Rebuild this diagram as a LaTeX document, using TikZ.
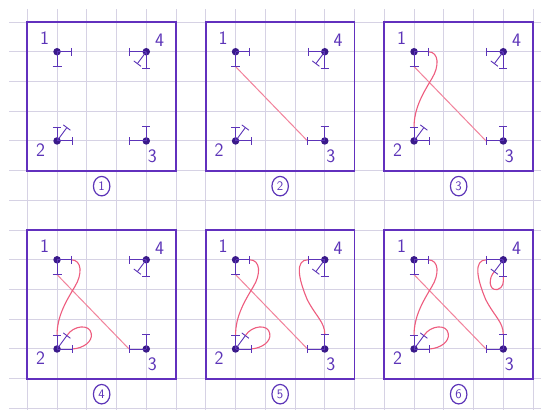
\documentclass[tikz,border=0pt]{standalone}
\usetikzlibrary{shapes.geometric}
\definecolor{boxpurple}{RGB}{98,48,190}
\definecolor{dotpurple}{RGB}{58,26,138}
\definecolor{inkpurple}{RGB}{92,52,184}
\definecolor{pinkline}{RGB}{238,92,126}
\definecolor{pinklight}{RGB}{242,130,155}
\definecolor{gridgray}{RGB}{214,210,228}
\tikzset{
  gridline/.style={gridgray, line width=0.9pt},
  panelbox/.style={draw=boxpurple, line width=1.8pt},
  vdot/.style={circle, fill=dotpurple, inner sep=0pt, minimum size=7.5pt},
  arm/.style={inkpurple, line width=0.9pt},
  curve/.style={pinkline, line width=1.1pt},
  straightcurve/.style={pinklight, line width=1.0pt},
  numlabel/.style={text=inkpurple, font=\sffamily\fontsize{19}{19}\selectfont, inner sep=0pt},
  circlabel/.style={draw=inkpurple, ellipse, line width=1.2pt, text=inkpurple,
    font=\sffamily\fontsize{13}{13}\selectfont, inner sep=0pt, minimum width=16.5pt, minimum height=19.5pt},
}
% #1 prefix, #2 x, #3 y, #4 stage
\newcommand{\drawpanel}[4]{%
\begin{scope}[shift={(#2,#3)}, x=29.74pt, y=-29.74pt]
  \draw[panelbox] (-1,-1) rectangle (4,4);
  % arm ends
  \coordinate (#1ar) at (0.47,0);
  \coordinate (#1ad) at (0,0.5);
  \coordinate (#1dl) at (2.44,0);
  \coordinate (#1dd) at (3,0.56);
  \coordinate (#1dg) at (2.7,0.4);
  \coordinate (#1bu) at (0,2.53);
  \coordinate (#1br) at (0.52,3);
  \coordinate (#1bg) at (0.33,2.55);
  \coordinate (#1cu) at (3,2.5);
  \coordinate (#1cl) at (2.42,3);
  % curves
  \ifnum#4>1 \draw[straightcurve] (#1ad) -- (#1cl); \fi
  \ifnum#4>2 \draw[curve] (#1ar) .. controls (0.85,0) and (0.85,0.5) .. (0.6,0.9)
      .. controls (0.3,1.4) and (0,1.9) .. (#1bu); \fi
  \ifnum#4>3 \draw[curve] (#1br) .. controls (0.9,2.97) and (1.2,2.75) .. (1.15,2.48)
      .. controls (1.1,2.15) and (0.55,2.2) .. (#1bg); \fi
  \ifnum#4>4 \draw[curve] (#1dl) .. controls (2.0,0.0) and (2.1,0.6) .. (2.41,1.34)
      .. controls (2.7,1.9) and (3.0,2.1) .. (#1cu); \fi
  \ifnum#4>5 \draw[curve] (#1dg) .. controls (2.5,0.6) and (2.5,1.05) .. (2.8,1.0)
      .. controls (3.0,0.95) and (3.02,0.75) .. (#1dd); \fi
  % points
  \node[vdot] (#1a) at (0,0) {};
  \node[vdot] (#1d) at (3,0) {};
  \node[vdot] (#1b) at (0,3) {};
  \node[vdot] (#1c) at (3,3) {};
  % handles of point 1
  \draw[arm] (#1a.center) -- (#1ar);
  \draw[arm] (0.47,-0.13) -- (0.47,0.13);
  \draw[arm] (#1a.center) -- (#1ad);
  \draw[arm] (-0.15,0.5) -- (0.15,0.5);
  % handles of point 4
  \draw[arm] (#1d.center) -- (#1dl);
  \draw[arm] (2.44,-0.13) -- (2.44,0.13);
  \draw[arm] (#1d.center) -- (#1dd);
  \draw[arm] (2.86,0.56) -- (3.14,0.56);
  \draw[arm] (#1d.center) -- (#1dg);
  \draw[arm] (2.82,0.49) -- (2.58,0.31);
  % handles of point 2
  \draw[arm] (#1b.center) -- (#1bu);
  \draw[arm] (-0.14,2.53) -- (0.14,2.53);
  \draw[arm] (#1b.center) -- (#1br);
  \draw[arm] (0.52,2.87) -- (0.52,3.13);
  \draw[arm] (#1b.center) -- (#1bg);
  \draw[arm] (0.45,2.64) -- (0.21,2.46);
  % handles of point 3
  \draw[arm] (#1c.center) -- (#1cu);
  \draw[arm] (2.86,2.5) -- (3.14,2.5);
  \draw[arm] (#1c.center) -- (#1cl);
  \draw[arm] (2.42,2.87) -- (2.42,3.13);
  % number labels
  \node[numlabel] (#1n1) at (-0.42,-0.45) {1};
  \node[numlabel] (#1n4) at (3.45,-0.4) {4};
  \node[numlabel] (#1n2) at (-0.55,3.3) {2};
  \node[numlabel] (#1n3) at (3.2,3.52) {3};
  \node[circlabel] (#1lab) at (1.5,4.52) {#4};
\end{scope}}
\begin{document}
\begin{tikzpicture}[x=1pt, y=-1pt]
  \useasboundingbox[fill=white] (0,0) rectangle (541,410);
  \foreach \k in {0,...,17} \draw[gridline] ({27.3+29.75*\k},9) -- ({27.3+29.75*\k},410);
  \foreach \k in {0,...,13} \draw[gridline] (9,{22+29.72*\k}) -- (541,{22+29.72*\k});
  \drawpanel{A}{57.05}{51.72}{1}
  \drawpanel{B}{235.55}{51.72}{2}
  \drawpanel{C}{414.05}{51.72}{3}
  \drawpanel{D}{57.05}{259.76}{4}
  \drawpanel{E}{235.55}{259.76}{5}
  \drawpanel{F}{414.05}{259.76}{6}
\end{tikzpicture}
\end{document}
